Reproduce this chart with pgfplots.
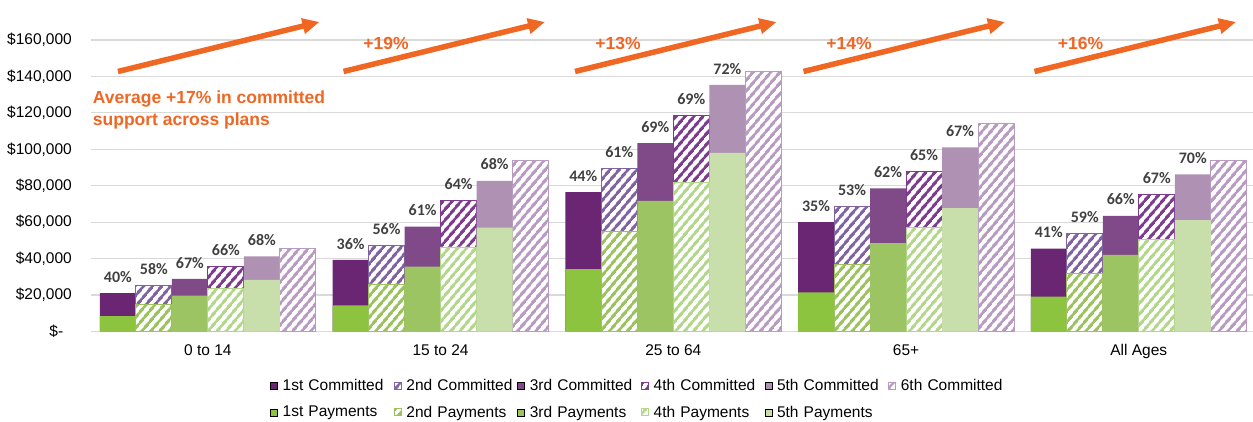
\documentclass[border=0pt]{standalone}
\usepackage{pgfplots}
\pgfplotsset{compat=1.18}
\usepackage{fontspec}
\setmainfont{Liberation Sans}
\newfontfamily\calibri{Carlito}
\usetikzlibrary{patterns.meta, arrows.meta}

\definecolor{cA}{HTML}{6A2573}
\definecolor{cB}{HTML}{8064A2}
\definecolor{cC}{HTML}{7F4A87}
\definecolor{cD}{HTML}{7D3C8E}
\definecolor{cE}{HTML}{AE91B3}
\definecolor{cF}{HTML}{B79BC0}
\definecolor{pA}{HTML}{8CC43F}
\definecolor{pB}{HTML}{9BC25E}
\definecolor{pC}{HTML}{9CC463}
\definecolor{pD}{HTML}{B3D78A}
\definecolor{pE}{HTML}{C9DFAB}
\definecolor{gridc}{HTML}{D9D9D9}
\definecolor{lblc}{HTML}{404040}
\definecolor{orng}{HTML}{F06623}

\tikzset{
  hatch/.style={fill=white, draw=#1, line width=0.8pt,
    postaction={pattern={Lines[angle=50,distance=6.4pt,line width=3pt]}, pattern color=#1}},
}

\begin{document}
\begin{tikzpicture}
\useasboundingbox (0,0) rectangle (1253pt,422pt);
\begin{axis}[
  at={(91.5pt,90.5pt)}, anchor=south west,
  width=1161.5pt, height=291.5pt, scale only axis,
  xmin=-0.5, xmax=4.491, ymin=0, ymax=160000,
  ybar, bar width=0.1547,
  clip=false,
  scaled y ticks=false,
  axis line style={draw=none},
  ymajorgrids, grid style={draw=gridc, line width=1.2pt},
  major tick length=0pt,
  tick style={draw=none},
  xtick={0,1,2,3,4},
  xticklabels={0 to 14, 15 to 24, 25 to 64, 65+, All Ages},
  ytick={0,20000,40000,60000,80000,100000,120000,140000,160000},
  yticklabels={{\$-\phantom{0}},{\$20,000},{\$40,000},{\$60,000},{\$80,000},{\$100,000},{\$120,000},{\$140,000},{\$160,000}},
  tick label style={font=\fontsize{15.5}{17}\selectfont, text=black},
  yticklabel style={anchor=east, inner sep=0pt, xshift=-19.5pt},
  xticklabel style={anchor=base, inner sep=0pt, yshift=-24.5pt},
  every node near coord/.append style={font=\calibri\bfseries\fontsize{16}{18}\selectfont, text=lblc, inner sep=0pt, yshift=10.5pt},
  legend columns=6,
  legend cell align=left,
  legend image code/.code={\draw[#1] (0pt,-3.5pt) rectangle (7pt,3.5pt);},
  legend style={at={(0.1537,-0.146)}, anchor=north west, draw=none, fill=none, inner sep=0pt,
    font=\fontsize{15.5}{17}\selectfont,
    nodes={text width=105pt, align=left, inner sep=5pt},
    /tikz/every even column/.append style={column sep=1pt}, row sep=4pt},
]
% committed
\addplot[bar shift=-0.38675, fill=cA, draw=none, nodes near coords, point meta=explicit symbolic]
  coordinates {(0,21000)[40\%] (1,39300)[36\%] (2,76500)[44\%] (3,60000)[35\%] (4,45500)[41\%]};
\addlegendentry{\mbox{1st Committed}}
\addplot[bar shift=-0.2321, hatch=cB, nodes near coords, point meta=explicit symbolic]
  coordinates {(0,25200)[58\%] (1,47200)[56\%] (2,89700)[61\%] (3,68800)[53\%] (4,53700)[59\%]};
\addlegendentry{\mbox{2nd Committed}}
\addplot[bar shift=-0.07735, fill=cC, draw=none, nodes near coords, point meta=explicit symbolic]
  coordinates {(0,28900)[67\%] (1,57600)[61\%] (2,103400)[69\%] (3,78500)[62\%] (4,63500)[66\%]};
\addlegendentry{\mbox{3rd Committed}}
\addplot[bar shift=0.07735, hatch=cD, nodes near coords, point meta=explicit symbolic]
  coordinates {(0,35600)[66\%] (1,71900)[64\%] (2,118600)[69\%] (3,87600)[65\%] (4,75400)[67\%]};
\addlegendentry{\mbox{4th Committed}}
\addplot[bar shift=0.2321, fill=cE, draw=none, nodes near coords, point meta=explicit symbolic]
  coordinates {(0,41300)[68\%] (1,82700)[68\%] (2,135300)[72\%] (3,101000)[67\%] (4,86200)[70\%]};
\addlegendentry{\mbox{5th Committed}}
\addplot[bar shift=0.38675, hatch=cF]
  coordinates {(0,45700) (1,93900) (2,142800) (3,114400) (4,94100)};
\addlegendentry{\mbox{6th Committed}}
% payments
\addplot[bar shift=-0.38675, fill=pA, draw=none]
  coordinates {(0,8500) (1,14400) (2,34200) (3,21500) (4,19100)};
\addlegendentry{\mbox{1st Payments}}
\addplot[bar shift=-0.2321, hatch=pB]
  coordinates {(0,14600) (1,26100) (2,54700) (3,36900) (4,32000)};
\addlegendentry{\mbox{2nd Payments}}
\addplot[bar shift=-0.07735, fill=pC, draw=none]
  coordinates {(0,19700) (1,35600) (2,71700) (3,48500) (4,42000)};
\addlegendentry{\mbox{3rd Payments}}
\addplot[bar shift=0.07735, hatch=pD]
  coordinates {(0,23700) (1,46400) (2,81800) (3,57000) (4,50300)};
\addlegendentry{\mbox{4th Payments}}
\addplot[bar shift=0.2321, fill=pE, draw=none]
  coordinates {(0,28300) (1,57000) (2,98100) (3,67700) (4,61100)};
\addlegendentry{\mbox{5th Payments}}
\end{axis}
% annotations
\foreach \x in {118,343.5,575,803.5,1034.5}
  \draw[orng, line width=5.5pt, -{Triangle[length=17pt,width=15pt]}] (\x pt,350.5pt) -- ({\x pt+201.5pt},400pt);
\begin{scope}[every node/.style={text=orng, font=\bfseries\fontsize{17.5}{21}\selectfont, inner sep=0pt}]
\node at (386pt,378.5pt) {+19\%};
\node at (618pt,379pt) {+13\%};
\node at (849pt,379pt) {+14\%};
\node at (1080.5pt,379pt) {+16\%};
\node[anchor=base west] at (92.7pt,318pt) {Average +17\% in committed};
\node[anchor=base west] at (92.7pt,296pt) {support across plans};
\end{scope}
\end{tikzpicture}
\end{document}
